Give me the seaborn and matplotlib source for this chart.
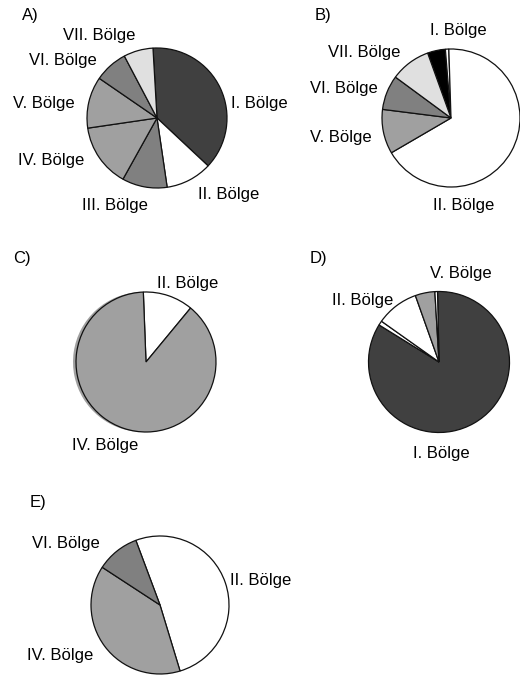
import matplotlib
matplotlib.use("Agg")
import matplotlib.pyplot as plt
import seaborn as sns

# ---- data: share of each wave (percent), listed clockwise ----
waves_a = ["I. Bölge", "II. Bölge", "III. Bölge", "IV. Bölge", "V. Bölge", "VI. Bölge", "VII. Bölge"]
share_a = [37.9, 10.7, 10.4, 14.6, 11.9, 7.7, 6.8]

waves_b = ["I. Bölge", "", "II. Bölge", "V. Bölge", "VI. Bölge", "VII. Bölge"]
share_b = [4.2, 0.8, 67.1, 10.4, 8.1, 9.4]

waves_c = ["II. Bölge", "IV. Bölge"]
share_c = [11.6, 88.4]

waves_d = ["I. Bölge", "", "II. Bölge", "V. Bölge", ""]
share_d = [84.15, 1.0, 9.75, 4.5, 0.6]

waves_e = ["II. Bölge", "IV. Bölge", "VI. Bölge"]
share_e = [51.0, 38.9, 10.1]

panel_names = ["A)", "B)", "C)", "D)", "E)"]

# ---- styling ----
sns.set_theme(style="white")
plt.rcParams["font.family"] = ["Liberation Sans", "DejaVu Sans"]

wave_colors = {
    "I. Bölge": "#404040",
    "II. Bölge": "#ffffff",
    "III. Bölge": "#808080",
    "IV. Bölge": "#a0a0a0",
    "V. Bölge": "#a0a0a0",
    "VI. Bölge": "#808080",
    "VII. Bölge": "#e0e0e0",
    "": "#ffffff",
}
special_colors = {("B)", "I. Bölge"): "#000000"}

W, H = 520, 680
fig = plt.figure(figsize=(W / 100, H / 100), dpi=100)
fig.patch.set_facecolor("white")
ax = fig.add_axes([0, 0, 1, 1])

# layout in pixel coordinates (y measured from the top)
layout = {
    "A)": dict(center=(157, 118), r=70, start=93.3, tag=(22, 20),
               labels={"I. Bölge": (231, 108), "II. Bölge": (198, 199), "III. Bölge": (82, 210),
                       "IV. Bölge": (18, 165), "V. Bölge": (13, 108), "VI. Bölge": (29, 65),
                       "VII. Bölge": (63, 40)}),
    "B)": dict(center=(451, 118), r=69, start=109.8, tag=(315, 20),
               labels={"I. Bölge": (430, 35), "II. Bölge": (433, 210), "V. Bölge": (310, 142),
                       "VI. Bölge": (310, 93), "VII. Bölge": (328, 57)}),
    "C)": dict(center=(146, 362), r=70, start=92.2, tag=(13, 263), misprint=(-3, 0),
               labels={"II. Bölge": (157, 288), "IV. Bölge": (72, 450)}),
    "D)": dict(center=(439, 362), r=70.5, start=91.2, tag=(310, 263),
               labels={"V. Bölge": (430, 278), "II. Bölge": (332, 305), "I. Bölge": (413, 458)}),
    "E)": dict(center=(160, 605), r=69, start=110.5, tag=(30, 507),
               labels={"VI. Bölge": (32, 548), "II. Bölge": (230, 585), "IV. Bölge": (27, 660)}),
}

panels = [(waves_a, share_a), (waves_b, share_b), (waves_c, share_c),
          (waves_d, share_d), (waves_e, share_e)]

for name, (waves, shares) in zip(panel_names, panels):
    lay = layout[name]
    cx, cy = lay["center"]
    colors = [special_colors.get((name, w), wave_colors[w]) for w in waves]
    if "misprint" in lay:
        # slightly shifted fill underneath, as in the printed original
        dx, dy = lay["misprint"]
        ax.pie(shares, colors=colors, startangle=lay["start"], counterclock=False,
               center=(cx + dx, H - cy - dy), radius=lay["r"],
               wedgeprops=dict(edgecolor="none", linewidth=0))
    ax.pie(shares, colors=colors, startangle=lay["start"], counterclock=False,
           center=(cx, H - cy), radius=lay["r"],
           wedgeprops=dict(edgecolor="#111111", linewidth=0.9))
    tx, ty = lay["tag"]
    ax.text(tx, H - ty, name, ha="left", va="baseline", fontsize=12, color="black")
    for w in waves:
        if w and w in lay["labels"]:
            lx, ly = lay["labels"][w]
            ax.text(lx, H - ly, w, ha="left", va="baseline", fontsize=12, color="black")

ax.set_xlim(0, W)
ax.set_ylim(0, H)
ax.set_aspect("equal")
ax.axis("off")

fig.savefig("out.png", dpi=100, facecolor="white")
